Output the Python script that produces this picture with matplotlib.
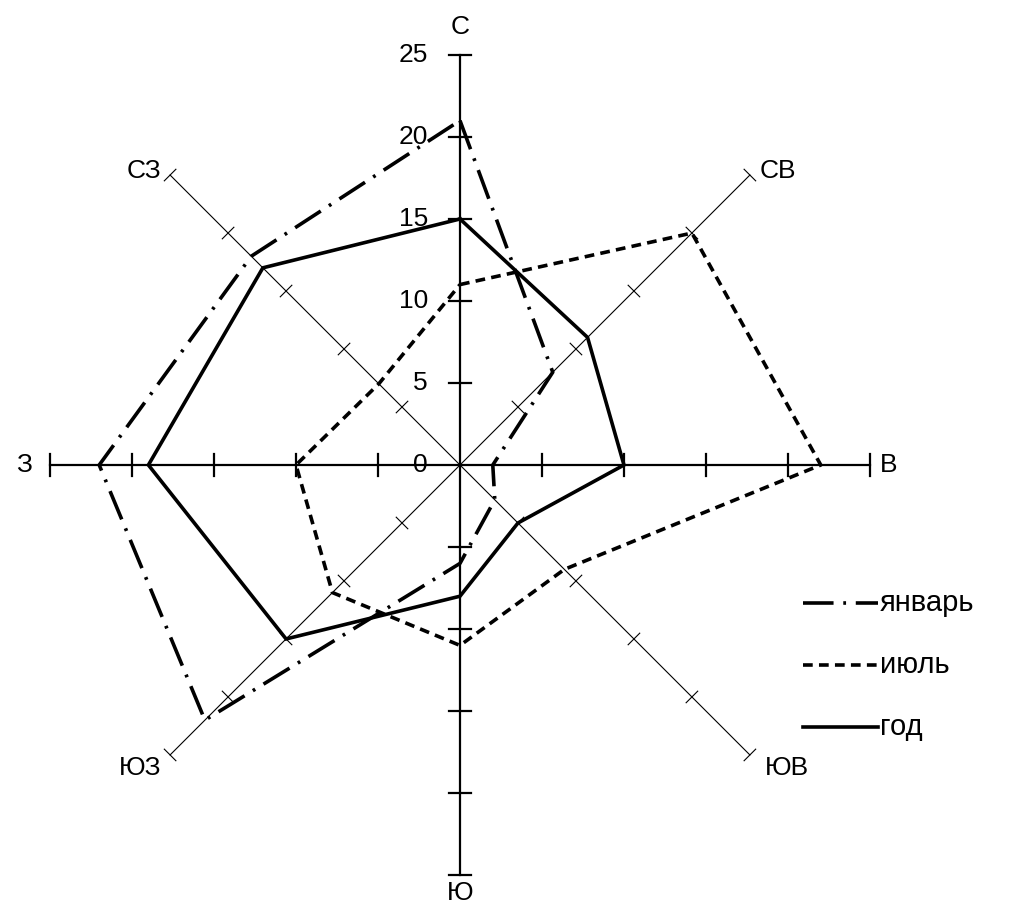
import numpy as np
import matplotlib
matplotlib.use("Agg")
import matplotlib.pyplot as plt

plt.rcParams['font.family'] = ['Liberation Sans', 'DejaVu Sans']
plt.rcParams['lines.scale_dashes'] = False

# румбы и повторяемость ветров, %
directions = ['С', 'СВ', 'В', 'ЮВ', 'Ю', 'ЮЗ', 'З', 'СЗ']
angles_deg = [90, 45, 0, -45, -90, -135, 180, 135]
january = [21, 8, 2, 3, 6, 22, 22, 18]
july = [11, 20, 22, 9, 11, 11, 10, 7]
year = [15, 11, 10, 5, 8, 15, 19, 17]
scale_ticks = [0, 5, 10, 15, 20, 25]
series_names = ['январь', 'июль', 'год']

R = 25
ang = np.radians(angles_deg)

fig = plt.figure(figsize=(10.21, 9.19), dpi=100)
ax = fig.add_axes([0, 0, 1, 1])
ax.axis('off')
ax.set_xlim(-28.05, 34.21)
ax.set_ylim(-27.68, 28.35)

# оси румбов
for i, a in enumerate(ang):
    ux, uy = np.cos(a), np.sin(a)
    px, py = -uy, ux
    cardinal = angles_deg[i] % 90 == 0
    lw = 1.6 if cardinal else 0.8
    tl = 0.7 if cardinal else 0.5
    ax.plot([0, R * ux], [0, R * uy], color='black', lw=lw, zorder=1)
    for t in scale_ticks[1:]:
        cx, cy = t * ux, t * uy
        ax.plot([cx - tl * px, cx + tl * px], [cy - tl * py, cy + tl * py],
                color='black', lw=lw, zorder=1)

# подписи румбов
label_pos = {
    'С': (0, 26.7, 'center'), 'СВ': (18.3, 17.9, 'left'),
    'В': (25.6, 0, 'left'), 'ЮВ': (18.6, -18.5, 'left'),
    'Ю': (0, -26.1, 'center'), 'ЮЗ': (-18.2, -18.5, 'right'),
    'З': (-26.6, 0, 'center'), 'СЗ': (-18.2, 17.9, 'right'),
}
for d in directions:
    x, y, ha = label_pos[d]
    ax.text(x, y, d, ha=ha, va='center', fontsize=19)

# шкала
for t in scale_ticks:
    ax.text(-1.95, t, str(t), ha='right', va='center', fontsize=19)

styles = [
    dict(dashes=(22, 7, 2, 7)),
    dict(dashes=(7, 4.5)),
    dict(linestyle='-'),
]
for vals, st, name in zip([january, july, year], styles, series_names):
    v = np.array(vals + vals[:1], dtype=float)
    a = np.concatenate([ang, ang[:1]])
    ax.plot(v * np.cos(a), v * np.sin(a), color='black', lw=2.6,
            solid_joinstyle='miter', label=name, zorder=3, **st)

# легенда
leg_y = [-8.4, -12.2, -16.0]
for yy, st, name in zip(leg_y, styles, series_names):
    ax.plot([20.9, 25.5], [yy, yy], color='black', lw=2.6, **st)
    ax.text(25.6, yy, name, ha='left', va='center', fontsize=21)

fig.savefig('out.png', dpi=100)
